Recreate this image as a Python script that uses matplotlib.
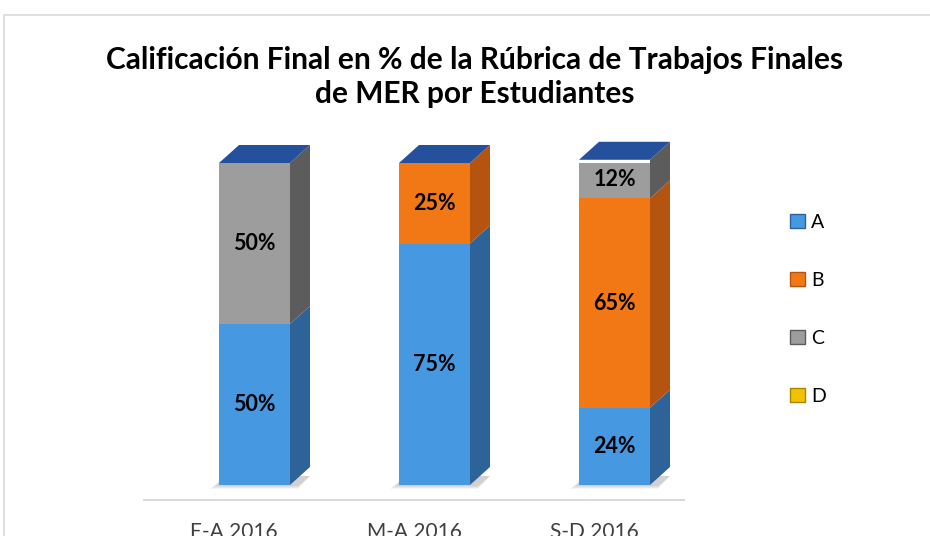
import matplotlib
matplotlib.use("Agg")
import matplotlib.pyplot as plt
from matplotlib.patches import Polygon, Rectangle, Patch
import numpy as np

# ---- data ----
categories = ["E-A 2016", "M-A 2016", "S-D 2016"]
series_names = ["A", "B", "C", "D"]
values_A = [50, 75, 24]
values_B = [0, 25, 65]
values_C = [50, 0, 12]
values_D = [0, 0, 0]
series_values = [values_A, values_B, values_C, values_D]

# ---- styles ----
front_colors = ["#4698E1", "#F27816", "#9D9D9D", "#F2C200"]
side_colors = ["#2E6399", "#B5540F", "#5C5C5C", "#A88700"]
cap_color = "#24509C"

plt.rcParams['font.family'] = ['Lato', 'DejaVu Sans']

fig = plt.figure(figsize=(9.3, 5.36), dpi=100)
W, H = 930, 536

# chart frame
fig.patches.append(Rectangle((4 / W, -0.1), 1.1, (536 - 15) / H + 0.1,
                             transform=fig.transFigure, fill=False,
                             edgecolor="#d9d9d9", linewidth=1.2))

ax = fig.add_axes([144 / W, 36 / H, 540 / W, 337 / H])
ymin = -15 / 3.22
ax.set_xlim(-0.5, len(categories) - 0.5)
ax.set_ylim(ymin, 100)

bar_w = 71 / 180
shift = 20.5 / 180
dx = 20 / 180
dy = 18 / 3.22

x = np.arange(len(categories))
bottoms = np.zeros(len(categories))
for s, vals in enumerate(series_values):
    vals = np.array(vals, dtype=float)
    ax.bar(x + shift, vals, bar_w, bottom=bottoms, color=front_colors[s],
           edgecolor="none", zorder=3)
    for i in range(len(categories)):
        v = vals[i]
        if v <= 0:
            continue
        b = bottoms[i]
        x1 = x[i] + shift + bar_w / 2
        side = Polygon([(x1, b), (x1 + dx, b + dy), (x1 + dx, b + v + dy), (x1, b + v)],
                       closed=True, facecolor=side_colors[s], edgecolor="none",
                       zorder=2, clip_on=False)
        ax.add_patch(side)
        ax.text(x[i] + shift, b + v / 2, f"{int(v)}%", ha="center", va="center",
                fontsize=15.5, fontweight="bold", color="black", zorder=5)
    bottoms = bottoms + vals

# top caps and soft shadows
for i in range(len(categories)):
    top = bottoms[i]
    x0 = x[i] + shift - bar_w / 2
    x1 = x0 + bar_w
    cap = Polygon([(x0, top), (x1, top), (x1 + dx, top + dy), (x0 + dx, top + dy)],
                  closed=True, facecolor=cap_color, edgecolor="none",
                  zorder=4, clip_on=False)
    ax.add_patch(cap)
    for k in range(4):
        e = 0.012 * k
        sh = Polygon([(x0 - 0.05 + e, -1.2 + 0.3 * k), (x1 + dx * 0.4, -1.2 + 0.3 * k),
                      (x1 + dx, dy * 0.5), (x0 + dx * 0.3, dy * 0.5)],
                     closed=True, facecolor="#606060", alpha=0.08, edgecolor="none", zorder=1)
        ax.add_patch(sh)

ax.set_xticks(x)
ax.set_xticklabels(categories, fontsize=15, color="#404040")
ax.tick_params(axis="x", length=0, pad=16)
ax.set_yticks([])
for sp in ["top", "right", "left"]:
    ax.spines[sp].set_visible(False)
ax.spines["bottom"].set_color("#d9d9d9")
ax.spines["bottom"].set_linewidth(1.5)

# title
fig.text(475 / W, 1 - 77 / H,
         "Calificación Final en % de la Rúbrica de Trabajos Finales\nde MER por Estudiantes",
         ha="center", va="center", fontsize=21.5, fontweight="bold",
         linespacing=1.3, color="black")

# legend
handles = [Patch(facecolor=front_colors[s], edgecolor=side_colors[s]) for s in range(4)]
fig.legend(handles, series_names, loc="upper left",
           bbox_to_anchor=(772 / W, 1 - 196 / H), frameon=False,
           fontsize=14, handlelength=0.8, handleheight=0.8,
           handletextpad=0.3, labelspacing=2.1)

fig.savefig("out.png", dpi=100)
